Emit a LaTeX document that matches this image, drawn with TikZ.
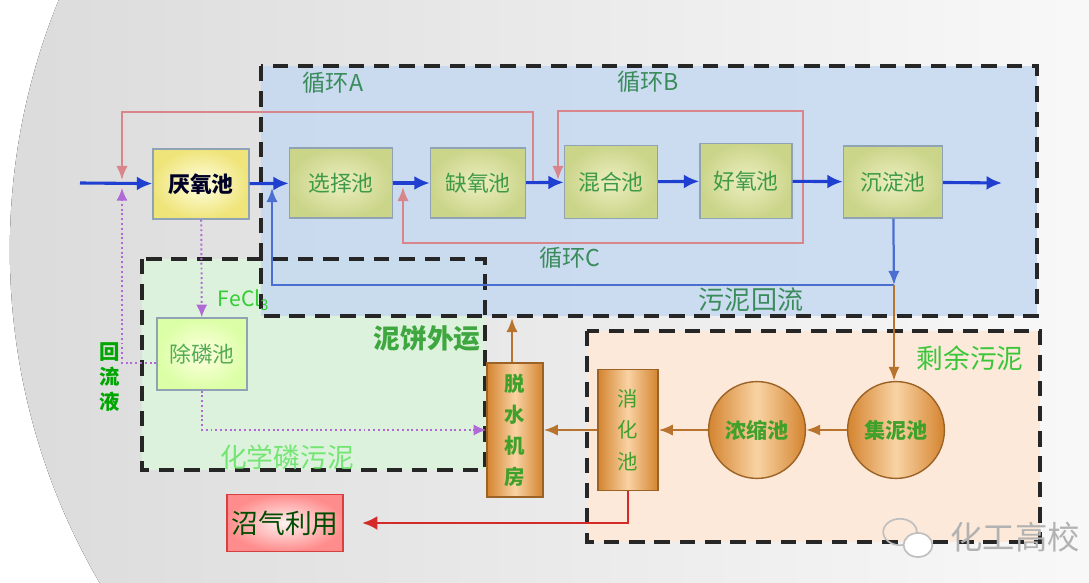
\documentclass[tikz,border=0pt]{standalone}
\usepackage{fontspec}
\setmainfont{Noto Sans CJK SC}
\usetikzlibrary{arrows.meta}
\definecolor{bluezone}{HTML}{C6D9F1}
\definecolor{greenzone}{HTML}{DDF2DC}
\definecolor{orangezone}{HTML}{FDE9D9}
\definecolor{flowblue}{HTML}{1F3FD0}
\definecolor{backblue}{HTML}{4A6FD0}
\definecolor{loopred}{HTML}{D9858C}
\definecolor{gasred}{HTML}{D42A2A}
\definecolor{sludge}{HTML}{B8742E}
\definecolor{purp}{HTML}{B06AD8}
\definecolor{poolline}{HTML}{8FA3B5}
\definecolor{poolin}{HTML}{ECEFC0}
\definecolor{poolout}{HTML}{CBD58A}
\definecolor{pooltext}{HTML}{3E9A46}
\definecolor{loopgreen}{HTML}{3A8C5C}
\definecolor{towerout}{HTML}{D4842F}
\definecolor{towerin}{HTML}{F9D3A4}
\definecolor{tanktext}{HTML}{3FA02A}
\definecolor{anaerout}{HTML}{EFE47A}
\begin{document}
\begin{tikzpicture}[x=0.025cm,y=-0.025cm,
    pool/.style={draw=poolline,line width=1pt,inner color=poolin,outer color=poolout,minimum width=2.4cm,minimum height=1.75cm,text=pooltext,font=\fontsize{15.5}{18}\selectfont},
    anaer/.style={pool,inner color=yellow!12,outer color=anaerout,text=black!85!blue,font=\fontsize{15.5}{18}\selectfont\bfseries},
    dephos/.style={pool,minimum width=2.25cm,minimum height=1.8cm,inner color=yellow!12,outer color=yellow!60!green!35,text=green!35!gray},
    tower/.style={draw=sludge!85!black,line width=1pt,left color=towerout,right color=towerout,middle color=towerin,minimum width=1.4cm,text=tanktext,align=center,font=\fontsize{14.5}{22}\selectfont\bfseries},
    tank/.style={circle,draw=sludge!85!black,line width=1pt,left color=towerout,right color=towerout,middle color=towerin,minimum size=2.42cm,inner sep=0pt,text=tanktext,font=\fontsize{15}{18}\selectfont\bfseries},
    biogas/.style={draw=gasred!90,line width=1.2pt,inner color=red!5,outer color=red!45,minimum width=2.875cm,minimum height=1.43cm,text=black!70!green,font=\fontsize{19}{22}\selectfont},
    zone/.style={draw=black!85,line width=2.6pt,dash pattern=on 11pt off 7pt},
    flowline/.style={draw=flowblue,line width=2.2pt,-{Latex[length=11pt,width=10pt]}},
    backline/.style={draw=backblue,line width=1.6pt,-{Latex[length=10pt,width=8pt]}},
    loopline/.style={draw=loopred,line width=1.4pt,-{Latex[length=10pt,width=8pt]}},
    sludgeline/.style={draw=sludge,line width=1.6pt,-{Latex[length=10pt,width=8pt]}},
    gasline/.style={draw=gasred,line width=2pt,-{Latex[length=11pt,width=10pt]}},
    pdot/.style={draw=purp,line width=1.4pt,dotted,-{Latex[length=9pt,width=8pt]}},
    looplabel/.style={text=loopgreen,font=\fontsize{16.5}{18}\selectfont}]
\useasboundingbox (0,0) rectangle (1089,583);\clip (0,0) rectangle (1089,583);
\fill[white] (0,0) rectangle (1089,583);
\fill[left color=black!14,right color=white] (671,250) circle (16.525cm);
\fill[greenzone] (142,259) rectangle (485,470);\fill[bluezone,fill opacity=0.85] (261,66) rectangle (1037,316);\fill[orangezone] (587,331) rectangle (1040,542);
\draw[zone] (142,259) rectangle (485,470);\draw[zone] (261,66) rectangle (1037,316);\draw[zone] (587,331) rectangle (1040,542);
\node[anaer] (yanyang) at (201,184) {厌氧池};
\node[pool,minimum width=2.575cm] (xuanze) at (341,183) {选择池};
\node[pool,minimum width=2.375cm] (queyang) at (478,183) {缺氧池};
\node[pool,minimum width=2.325cm,minimum height=1.825cm] (hunhe) at (611,182) {混合池};
\node[pool,minimum width=2.3cm,minimum height=1.875cm] (haoyang) at (746,181) {好氧池};
\node[pool,minimum width=2.475cm,minimum height=1.8cm] (chendian) at (893,182) {沉淀池};
\node[dephos] (chulin) at (202,354) {除磷池};
\node[tower,minimum height=3.35cm] (tuoshui) at (515,430) {脱\\水\\机\\房};
\node[tower,minimum width=1.5cm,minimum height=3.025cm,font=\fontsize{14.5}{22.5}\selectfont] (xiaohua) at (628,430) {消\\化\\池};
\node[tank] (nongsuo) at (757,430) {浓缩池};
\node[tank] (jini) at (896,430) {集泥池};
\node[biogas] (zhaoqi) at (285,523) {沼气利用};
\coordinate (in) at (80,183);\coordinate (out) at (1002,183);\coordinate (ja) at (533,183);\coordinate (jb) at (803,183);
\coordinate (jm) at (558,180);\coordinate (jq) at (403,187);\coordinate (jin) at (122,180);\coordinate (jp) at (122,188);
\coordinate (jr) at (894,285);\coordinate (js) at (272,188);\coordinate (cake) at (512,318);
\draw[loopline] (ja) -- (533,112) -| (jin);\draw[loopline] (jb) -- (803,111) -| (jm);\draw[loopline] (jb) -- (803,243) -| (jq);
\draw[backline] (chendian) -- (jr);\draw[backline] (jr) -| (js);
\draw[sludgeline] (jr) -- (jr |- jini.north);
\draw[flowline] (in) -- (yanyang);\draw[flowline] (yanyang) -- (xuanze);\draw[flowline] (xuanze) -- (queyang);
\draw[flowline] (queyang) -- (hunhe);\draw[flowline] (hunhe) -- (haoyang);\draw[flowline] (haoyang) -- (chendian);\draw[flowline] (chendian) -- (out);
\draw[pdot] (yanyang) -- (chulin);\draw[pdot] ([yshift=-0.22cm]chulin.west) -| (jp);\draw[pdot] (chulin.south) |- (tuoshui.west);
\draw[sludgeline] (jini) -- (nongsuo);\draw[sludgeline] (nongsuo) -- (xiaohua);\draw[sludgeline] (xiaohua) -- (tuoshui);\draw[sludgeline] (tuoshui.north -| cake) -- (cake);
\draw[gasline,shorten >=0.45cm] (xiaohua.south) |- (zhaoqi.east);
\node[looplabel] (loopa) at (333,83) {循环A};\node[looplabel] (loopb) at (648,82) {循环B};\node[looplabel] (loopc) at (570,258) {循环C};
\node[looplabel,font=\fontsize{18.5}{20}\selectfont] (huiliu) at (751,300) {污泥回流};
\node[anchor=west,text=green!60!gray,font=\fontsize{15}{18}\selectfont] (fecl) at (213,300) {FeCl\textsubscript{3}};
\node[align=center,text=green!65!black,font=\fontsize{14.5}{18}\selectfont\bfseries] (reflux) at (110,377) {回\\流\\液};
\node[text=green!45!gray!90!black,font=\fontsize{19}{22}\selectfont\bfseries] (nibing) at (427,338) {泥饼外运};
\node[text=green!50!white!90!black,font=\fontsize{19}{22}\selectfont] (huaxue) at (287,457) {化学磷污泥};
\node[text=green!55!gray,font=\fontsize{19}{22}\selectfont] (shengyu) at (970,358) {剩余污泥};
\draw[black!25,line width=1.2pt] (900,532) ellipse (0.42cm and 0.33cm);\draw[black!25,line width=1.2pt,fill=white] (918,545) ellipse (0.36cm and 0.3cm);
\node[text=black!30,font=\fontsize{23}{26}\selectfont] (mark) at (1015,537) {化工高校};
\end{tikzpicture}
\end{document}
